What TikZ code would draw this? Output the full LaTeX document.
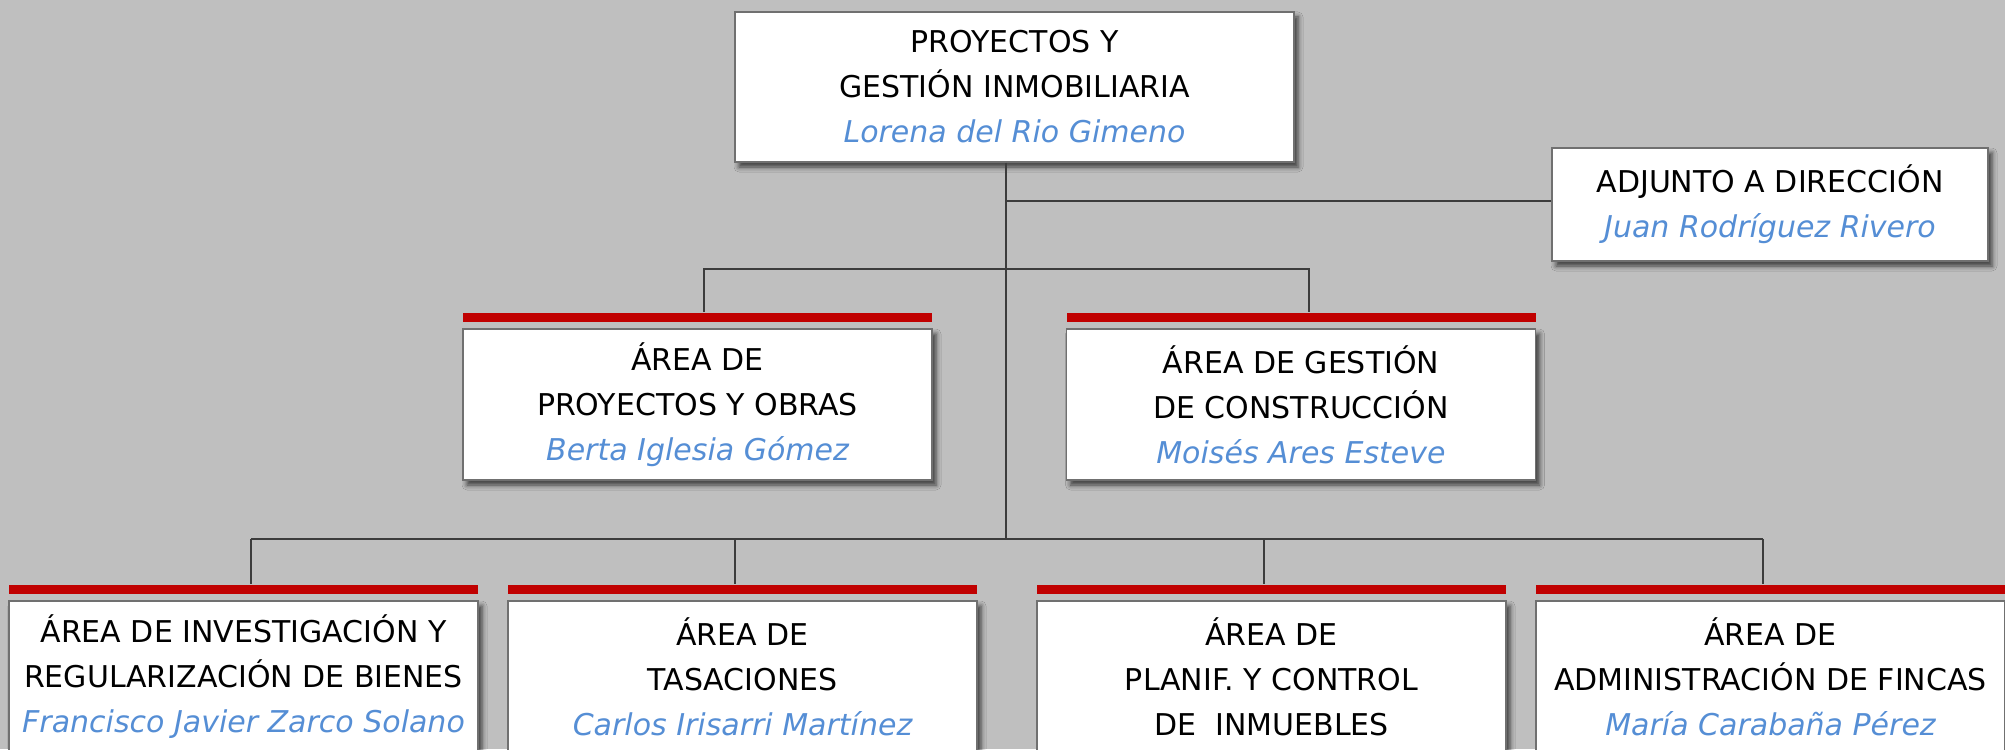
\documentclass[tikz,border=0pt]{standalone}
\usepackage{fontspec}
\setmainfont{DejaVu Sans}
\usetikzlibrary{shadows.blur}
\definecolor{bg}{RGB}{191,191,191}
\definecolor{barred}{RGB}{192,0,0}
\definecolor{nameblue}{RGB}{85,142,213}
\definecolor{linegray}{RGB}{60,60,60}
\definecolor{boxgray}{RGB}{112,112,112}
\newcommand\pname[1]{\textcolor{nameblue}{\itshape #1}}
\begin{document}
\begin{tikzpicture}[x=0.5pt,y=-0.5pt,
  box/.style={draw=boxgray, line width=0.7pt, fill=white, inner sep=0pt, align=center,
    font=\fontsize{15pt}{22.5pt}\selectfont,
    blur shadow={shadow xshift=2pt, shadow yshift=-2.5pt, shadow blur radius=2.5pt, shadow opacity=70}},
  wbox/.style={box, minimum width=234.5pt, minimum height=75.5pt},
  bar/.style={fill=barred, inner sep=0pt, minimum height=4.5pt, minimum width=234.5pt},
  conn/.style={draw=linegray, line width=1.1pt},
]
\fill[bg] (0,0) rectangle (2005,749);
\useasboundingbox (0,0) rectangle (2005,749);

% coordinates of connector corners
\coordinate (trunkend) at (1006,539);
\coordinate (adjj) at (1006,201);
\coordinate (h2l) at (704,269);
\coordinate (h2r) at (1309,269);
\coordinate (h3a) at (251,539);
\coordinate (h3b) at (735,539);
\coordinate (h3c) at (1264,539);
\coordinate (h3d) at (1763,539);

% boxes
\node[box, minimum width=279.5pt, minimum height=75pt] (top) at (1014.5,87)
  {PROYECTOS Y\\GESTIÓN INMOBILIARIA\\\pname{Lorena del Rio Gimeno}};
\node[box, minimum width=218pt, minimum height=56.5pt] (adj) at (1770,204.5)
  {ADJUNTO A DIRECCIÓN\\\pname{Juan Rodríguez Rivero}};

\node[bar] (bar21) at (697.5,317) {};
\node[wbox] (a21) at (697.5,404.5)
  {ÁREA DE\\PROYECTOS Y OBRAS\\\pname{Berta Iglesia Gómez}};
\node[bar] (bar22) at (1301,317) {};
\node[wbox] (a22) at (1301,404.5)
  {ÁREA DE GESTIÓN\\DE CONSTRUCCIÓN\\\pname{Moisés Ares Esteve}};

\node[bar] (bar31) at (243.5,589) {};
\node[wbox] (a31) at (243.5,676.5)
  {ÁREA DE INVESTIGACIÓN Y\\REGULARIZACIÓN DE BIENES\\\pname{Francisco Javier Zarco Solano}};
\node[bar] (bar32) at (742.5,589) {};
\node[wbox] (a32) at (742.5,676.5)
  {ÁREA DE\\TASACIONES\\\pname{Carlos Irisarri Martínez}};
\node[bar] (bar33) at (1271.5,589) {};
\node[wbox] (a33) at (1271.5,676.5)
  {ÁREA DE\\PLANIF. Y CONTROL\\DE\ \ INMUEBLES};
\node[bar] (bar34) at (1770.5,589) {};
\node[wbox] (a34) at (1770.5,676.5)
  {ÁREA DE\\ADMINISTRACIÓN DE FINCAS\\\pname{María Carabaña Pérez}};

% connectors
\draw[conn] (top.south -| trunkend) -- (trunkend);
\draw[conn] (adjj) -- (adjj -| adj.west);
\draw[conn] (bar21.north -| h2l) -- (h2l) -- (h2r) -- (bar22.north -| h2r);
\draw[conn] (h3a) -- (h3d);
\draw[conn] (h3a) -- (bar31.north -| h3a);
\draw[conn] (h3b) -- (bar32.north -| h3b);
\draw[conn] (h3c) -- (bar33.north -| h3c);
\draw[conn] (h3d) -- (bar34.north -| h3d);
\end{tikzpicture}
\end{document}
